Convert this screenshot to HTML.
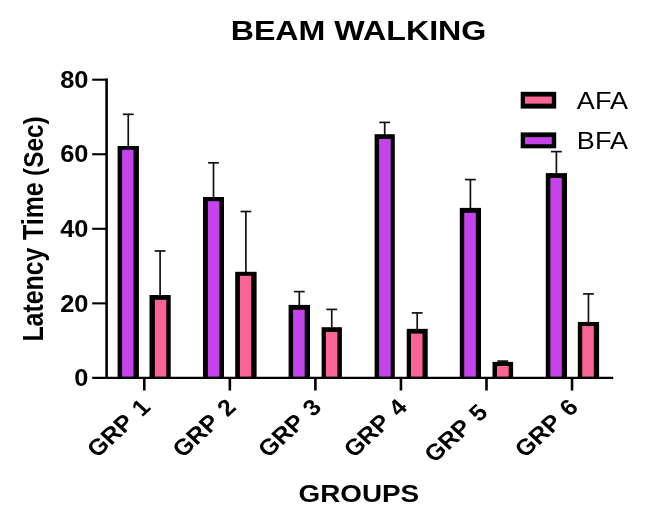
<!DOCTYPE html>
<html lang="en"><head><meta charset="utf-8"><title>BEAM WALKING</title>
<style>html,body{margin:0;padding:0;background:#fff;}svg{display:block;}text{font-family:"Liberation Sans",Arial,Helvetica,sans-serif;fill:#000;}</style>
</head><body>
<svg width="657" height="522" viewBox="0 0 657 522">
<rect x="0" y="0" width="657" height="522" fill="#fff"/>
<text transform="translate(358.5,40.3) scale(1.184,1)" text-anchor="middle" font-size="27.2" font-weight="bold">BEAM WALKING</text>
<line x1="128.25" y1="114.30" x2="128.25" y2="147.00" stroke="#111" stroke-width="1.7"/>
<line x1="122.85" y1="114.30" x2="133.65" y2="114.30" stroke="#111" stroke-width="1.7"/>
<rect x="117.60" y="146.00" width="21.30" height="231.90" fill="#000"/>
<rect x="122.10" y="149.80" width="11.40" height="227.00" fill="#C443EA"/>
<line x1="160.10" y1="251.00" x2="160.10" y2="296.00" stroke="#111" stroke-width="1.7"/>
<line x1="154.70" y1="251.00" x2="165.50" y2="251.00" stroke="#111" stroke-width="1.7"/>
<rect x="149.50" y="295.00" width="21.20" height="82.90" fill="#000"/>
<rect x="154.90" y="299.80" width="11.40" height="77.00" fill="#FB6595"/>
<line x1="213.50" y1="162.80" x2="213.50" y2="198.00" stroke="#111" stroke-width="1.7"/>
<line x1="208.10" y1="162.80" x2="218.90" y2="162.80" stroke="#111" stroke-width="1.7"/>
<rect x="203.00" y="197.00" width="21.00" height="180.90" fill="#000"/>
<rect x="207.90" y="201.20" width="11.50" height="175.60" fill="#C443EA"/>
<line x1="245.90" y1="211.50" x2="245.90" y2="272.80" stroke="#111" stroke-width="1.7"/>
<line x1="240.50" y1="211.50" x2="251.30" y2="211.50" stroke="#111" stroke-width="1.7"/>
<rect x="235.20" y="271.80" width="21.40" height="106.10" fill="#000"/>
<rect x="239.90" y="275.80" width="11.35" height="101.00" fill="#FB6595"/>
<line x1="299.30" y1="291.60" x2="299.30" y2="305.90" stroke="#111" stroke-width="1.7"/>
<line x1="293.90" y1="291.60" x2="304.70" y2="291.60" stroke="#111" stroke-width="1.7"/>
<rect x="288.60" y="304.90" width="21.40" height="73.00" fill="#000"/>
<rect x="293.10" y="309.80" width="11.60" height="67.00" fill="#C443EA"/>
<line x1="331.75" y1="309.40" x2="331.75" y2="328.20" stroke="#111" stroke-width="1.7"/>
<line x1="326.35" y1="309.40" x2="337.15" y2="309.40" stroke="#111" stroke-width="1.7"/>
<rect x="321.60" y="327.20" width="20.30" height="50.70" fill="#000"/>
<rect x="325.90" y="332.00" width="11.50" height="44.80" fill="#FB6595"/>
<line x1="384.70" y1="122.40" x2="384.70" y2="135.20" stroke="#111" stroke-width="1.7"/>
<line x1="379.30" y1="122.40" x2="390.10" y2="122.40" stroke="#111" stroke-width="1.7"/>
<rect x="374.60" y="134.20" width="20.20" height="243.70" fill="#000"/>
<rect x="379.10" y="139.00" width="11.60" height="237.80" fill="#C443EA"/>
<line x1="417.20" y1="312.90" x2="417.20" y2="329.85" stroke="#111" stroke-width="1.7"/>
<line x1="411.80" y1="312.90" x2="422.60" y2="312.90" stroke="#111" stroke-width="1.7"/>
<rect x="406.70" y="328.85" width="21.00" height="49.05" fill="#000"/>
<rect x="411.00" y="333.60" width="11.50" height="43.20" fill="#FB6595"/>
<line x1="470.40" y1="179.60" x2="470.40" y2="208.90" stroke="#111" stroke-width="1.7"/>
<line x1="465.00" y1="179.60" x2="475.80" y2="179.60" stroke="#111" stroke-width="1.7"/>
<rect x="459.80" y="207.90" width="21.20" height="170.00" fill="#000"/>
<rect x="464.20" y="212.80" width="11.60" height="164.00" fill="#C443EA"/>
<line x1="502.80" y1="361.10" x2="502.80" y2="362.90" stroke="#111" stroke-width="1.7"/>
<line x1="497.40" y1="361.10" x2="508.20" y2="361.10" stroke="#111" stroke-width="1.7"/>
<rect x="492.50" y="361.90" width="20.60" height="16.00" fill="#000"/>
<rect x="497.00" y="366.00" width="11.70" height="10.80" fill="#FB6595"/>
<line x1="556.40" y1="151.60" x2="556.40" y2="174.10" stroke="#111" stroke-width="1.7"/>
<line x1="551.00" y1="151.60" x2="561.80" y2="151.60" stroke="#111" stroke-width="1.7"/>
<rect x="545.80" y="173.10" width="21.20" height="204.80" fill="#000"/>
<rect x="550.40" y="177.95" width="11.40" height="198.85" fill="#C443EA"/>
<line x1="588.45" y1="293.90" x2="588.45" y2="322.95" stroke="#111" stroke-width="1.7"/>
<line x1="583.05" y1="293.90" x2="593.85" y2="293.90" stroke="#111" stroke-width="1.7"/>
<rect x="577.80" y="321.95" width="21.30" height="55.95" fill="#000"/>
<rect x="582.20" y="326.05" width="11.60" height="50.75" fill="#FB6595"/>
<line x1="92.2" y1="377.9" x2="613.2" y2="377.9" stroke="#000" stroke-width="2.2"/>
<line x1="106.6" y1="78.6" x2="106.6" y2="377.9" stroke="#000" stroke-width="2.6"/>
<text transform="translate(88.4,386.05) scale(1.10,1)" text-anchor="end" font-size="23.1" font-weight="bold">0</text>
<line x1="92.2" y1="303.35" x2="106.6" y2="303.35" stroke="#000" stroke-width="2.1"/>
<text transform="translate(88.4,311.50) scale(1.10,1)" text-anchor="end" font-size="23.1" font-weight="bold">20</text>
<line x1="92.2" y1="228.80" x2="106.6" y2="228.80" stroke="#000" stroke-width="2.1"/>
<text transform="translate(88.4,236.95) scale(1.10,1)" text-anchor="end" font-size="23.1" font-weight="bold">40</text>
<line x1="92.2" y1="154.25" x2="106.6" y2="154.25" stroke="#000" stroke-width="2.1"/>
<text transform="translate(88.4,162.40) scale(1.10,1)" text-anchor="end" font-size="23.1" font-weight="bold">60</text>
<line x1="92.2" y1="79.70" x2="106.6" y2="79.70" stroke="#000" stroke-width="2.1"/>
<text transform="translate(88.4,87.85) scale(1.10,1)" text-anchor="end" font-size="23.1" font-weight="bold">80</text>
<line x1="144.30" y1="377.9" x2="144.30" y2="390.5" stroke="#000" stroke-width="2.6"/>
<text transform="translate(151.80,408.60) scale(1.095,1) rotate(-45)" text-anchor="end" font-size="22.8" font-weight="bold" word-spacing="2.5">GRP 1</text>
<line x1="229.85" y1="377.9" x2="229.85" y2="390.5" stroke="#000" stroke-width="2.6"/>
<text transform="translate(237.35,408.60) scale(1.095,1) rotate(-45)" text-anchor="end" font-size="22.8" font-weight="bold" word-spacing="2.5">GRP 2</text>
<line x1="315.40" y1="377.9" x2="315.40" y2="390.5" stroke="#000" stroke-width="2.6"/>
<text transform="translate(322.90,408.60) scale(1.095,1) rotate(-45)" text-anchor="end" font-size="22.8" font-weight="bold" word-spacing="2.5">GRP 3</text>
<line x1="400.95" y1="377.9" x2="400.95" y2="390.5" stroke="#000" stroke-width="2.6"/>
<text transform="translate(408.45,408.60) scale(1.095,1) rotate(-45)" text-anchor="end" font-size="22.8" font-weight="bold" word-spacing="2.5">GRP 4</text>
<line x1="486.50" y1="377.9" x2="486.50" y2="390.5" stroke="#000" stroke-width="2.6"/>
<text transform="translate(489.00,413.70) scale(1.095,1) rotate(-45)" text-anchor="end" font-size="22.8" font-weight="bold" word-spacing="2.5">GRP 5</text>
<line x1="572.05" y1="377.9" x2="572.05" y2="390.5" stroke="#000" stroke-width="2.6"/>
<text transform="translate(579.55,408.60) scale(1.095,1) rotate(-45)" text-anchor="end" font-size="22.8" font-weight="bold" word-spacing="2.5">GRP 6</text>
<text transform="translate(43,341.6) scale(1.155,1) rotate(-90)" text-anchor="start" font-size="24.85" font-weight="bold">Latency</text>
<text transform="translate(43,239.97) scale(1.155,1) rotate(-90)" text-anchor="start" font-size="24.85" font-weight="bold">Time</text>
<text transform="translate(43,175.9) scale(1.155,1) rotate(-90)" text-anchor="start" font-size="24.4" font-weight="bold">(Sec)</text>
<text transform="translate(358.8,502.4) scale(1.18,1)" text-anchor="middle" font-size="23.6" font-weight="bold">GROUPS</text>
<rect x="520.7" y="91.80" width="35.5" height="16.80" fill="#000"/>
<rect x="525.0" y="96.55" width="26.8" height="7.1" fill="#FB6595"/>
<text transform="translate(602.4,108.80) scale(1.09,1)" text-anchor="middle" font-size="24.8">AFA</text>
<rect x="520.7" y="132.40" width="35.5" height="15.90" fill="#000"/>
<rect x="525.0" y="137.15" width="26.8" height="7.1" fill="#C443EA"/>
<text transform="translate(602.4,149.40) scale(1.09,1)" text-anchor="middle" font-size="24.8">BFA</text>
</svg>
</body></html>
